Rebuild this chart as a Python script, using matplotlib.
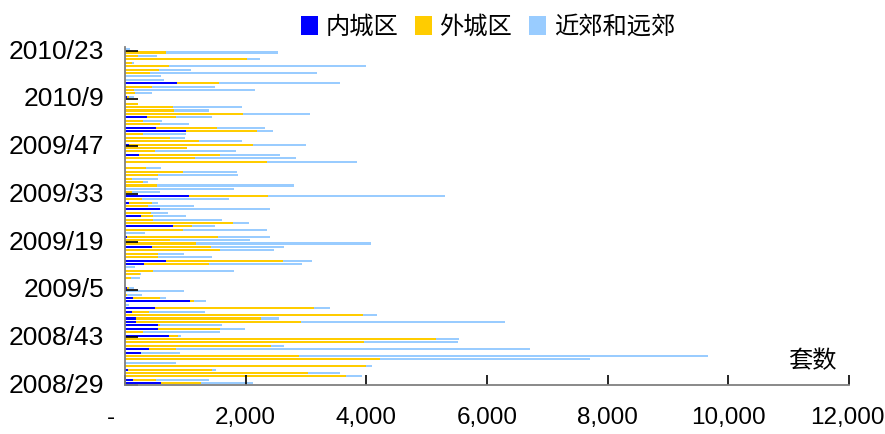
import numpy as np
import matplotlib
matplotlib.use('Agg')
import matplotlib.pyplot as plt
import matplotlib.transforms as mtransforms

plt.rcParams['font.family'] = ['Liberation Sans', 'Noto Sans CJK SC', 'DejaVu Sans']

# weekly categories, 2008/29 .. 2010/23 (bottom to top)
weeks = ([f'2008/{w}' for w in range(29, 53)] +
         [f'2009/{w}' for w in range(1, 53)] +
         [f'2010/{w}' for w in range(1, 24)])

# values (套数), same order as weeks
inner = [593, 133, 0, 0, 48, 0, 0, 0, 0, 270,
         399, 0, 0, 0, 729, 0, 547, 547, 182, 182,
         0, 116, 497, 0, 1078, 133, 0, 0, 30, 0,
         0, 0, 0, 0, 0, 315, 680, 0, 0, 0,
         448, 0, 0, 28, 0, 0, 796, 0, 0, 265,
         0, 580, 0, 72, 0, 1061, 0, 0, 0, 0,
         0, 0, 0, 0, 0, 0, 0, 232, 0, 0,
         66, 0, 0, 0, 1010, 515, 0, 0, 365, 0,
         0, 0, 0, 0, 30, 0, 0, 0, 860, 0,
         0, 0, 0, 0, 0, 0, 0, 0, 0]
outer = [662, 376, 3667, 3032, 1389, 3999, 0, 4219, 2889, 0,
         441, 2421, 3963, 5156, 150, 304, 1028, 33, 2736, 2073,
         3951, 282, 2637, 0, 66, 447, 33, 0, 30, 0,
         0, 100, 249, 470, 0, 1083, 1940, 542, 542, 1570,
         978, 1177, 746, 1509, 0, 962, 315, 1796, 470, 205,
         431, 0, 381, 370, 282, 1310, 111, 0, 531, 304,
         111, 542, 962, 343, 0, 2354, 1166, 1343, 497, 1028,
         2062, 1232, 746, 304, 1180, 1005, 580, 305, 480, 1960,
         810, 800, 215, 0, 30, 170, 150, 450, 705, 0,
         0, 415, 570, 735, 116, 2030, 215, 680, 0]
suburb = [862, 888, 267, 538, 77, 97, 852, 3496, 6773, 635,
          5876, 215, 1558, 382, 49, 1271, 415, 1028, 3382, 298,
          222, 928, 265, 66, 199, 100, 249, 978, 90, 0,
          0, 150, 16, 1337, 166, 1537, 480, 900, 436, 900,
          1210, 2902, 1332, 867, 332, 1392, 381, 260, 1138, 541,
          282, 1824, 763, 105, 1442, 2935, 469, 1807, 2271, 77,
          436, 1332, 895, 254, 0, 1493, 1669, 995, 1343, 0,
          873, 708, 249, 707, 265, 795, 480, 310, 595, 1110,
          585, 1140, 0, 0, 90, 280, 2005, 1040, 2000, 645,
          600, 2770, 525, 3265, 34, 210, 315, 1850, 80]

series_names = ['内城区', '外城区', '近郊和远郊']
colors = ['#0000FF', '#FFCC00', '#99CCFF']
x_ticks = [0, 2000, 4000, 6000, 8000, 10000, 12000]
x_labels = ['-', '2,000', '4,000', '6,000', '8,000', '10,000', '12,000']

fig = plt.figure(figsize=(8.85, 4.34), dpi=100)
ax = fig.add_axes([125/885, 1 - 385/434, (849 - 125)/885, (385 - 47.4)/434])

y = np.arange(len(weeks))
left = np.zeros(len(weeks))
for vals, name, c in zip([inner, outer, suburb], series_names, colors):
    ax.barh(y, vals, left=left, height=0.6, color=c, label=name, linewidth=0)
    left += np.array(vals)

ax.set_xlim(0, 12000)
ax.set_ylim(-0.5, len(weeks) - 0.5)

# labels every 14 weeks, tick marks on the category boundary
lab_idx = list(range(0, len(weeks), 14))
ax.set_yticks(lab_idx)
ax.set_yticklabels([weeks[i] for i in lab_idx])
ax.set_yticks([i - 0.5 for i in lab_idx], minor=True)
ax.tick_params(axis='y', which='major', length=0, pad=15, labelsize=19)
ax.tick_params(axis='y', which='minor', direction='in', length=9, width=1.2, color='black')

ax.set_xticks(x_ticks)
ax.set_xticklabels(x_labels)
ax.tick_params(axis='x', direction='in', length=7, width=1.2, color='black', pad=16, labelsize=17.5)

# the "-" for zero sits left of its tick, like the accounting format
zero_lab = ax.get_xticklabels()[0]
zero_lab.set_transform(zero_lab.get_transform() +
                       mtransforms.ScaledTranslation(-0.145, 0, fig.dpi_scale_trans))
# keep "12,000" inside the picture
last_lab = ax.get_xticklabels()[-1]
last_lab.set_transform(last_lab.get_transform() +
                       mtransforms.ScaledTranslation(-0.02, 0, fig.dpi_scale_trans))

for s in ['top', 'right']:
    ax.spines[s].set_visible(False)
for s in ['left', 'bottom']:
    ax.spines[s].set_color('#808080')
    ax.spines[s].set_linewidth(1.3)

handles, labels = ax.get_legend_handles_labels()
fig.legend(handles, labels, loc='center', bbox_to_anchor=(488/885, 1 - 27/434), ncol=3,
           frameon=False, prop={'family': 'Noto Sans CJK SC', 'size': 17.5},
           handlelength=0.7, handleheight=0.78, handletextpad=0.3, columnspacing=0.7,
           borderaxespad=0, borderpad=0)

fig.text(812/885, 1 - 361/434, '套数', ha='center', va='center', fontsize=17.5,
         family='Noto Sans CJK SC')

fig.savefig('out.png', dpi=100)
